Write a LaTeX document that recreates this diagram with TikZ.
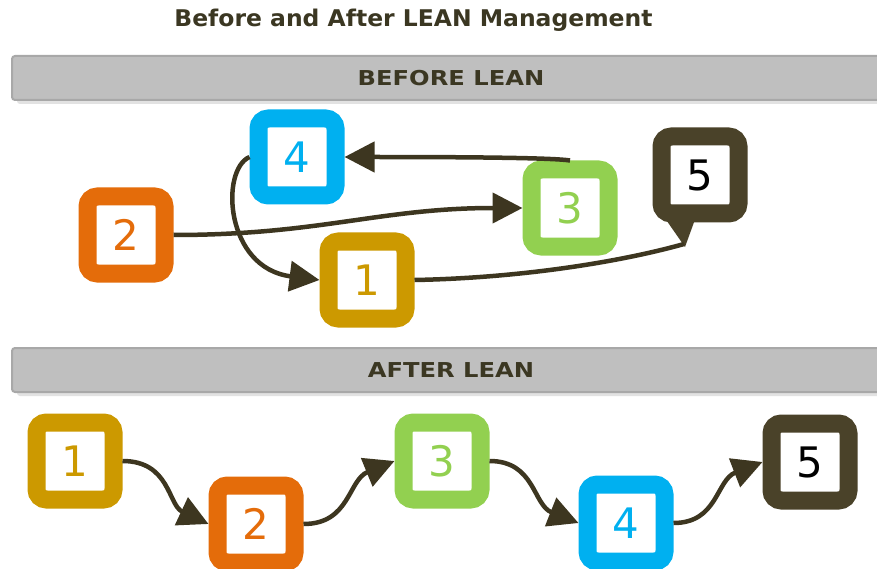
\documentclass[tikz,border=0pt]{standalone}
\usepackage{fontspec}
\usetikzlibrary{arrows.meta,shadows}
\newfontfamily\digitfont{DejaVu Sans}
\newfontfamily\headfont{DejaVu Sans}
\definecolor{cOrange}{HTML}{E46C0A}
\definecolor{cGold}{HTML}{CC9900}
\definecolor{cGreen}{HTML}{92D050}
\definecolor{cBlue}{HTML}{00B0F0}
\definecolor{cDark}{HTML}{4A4229}
\definecolor{cArrow}{HTML}{3D3620}
\definecolor{cText}{HTML}{3B3722}
\definecolor{cBanner}{HTML}{BFBFBF}
\definecolor{cBannerEdge}{HTML}{A8A8A8}
\definecolor{cShadow}{HTML}{E2E2E2}
\tikzset{
  box/.style={draw=#1, line width=18pt, fill=white, rounded corners=10pt,
    minimum size=77pt, inner sep=0pt, text=#1,
    font=\digitfont\fontsize{42}{42}\selectfont},
  banner/.style={fill=cBanner, draw=cBannerEdge, line width=2pt,
    rounded corners=3pt, minimum width=878pt, minimum height=44pt,
    drop shadow={shadow xshift=5pt, shadow yshift=-4pt, fill=cShadow, opacity=1},
    text=cText, font=\headfont\bfseries\fontsize{20.5}{20.5}\selectfont},
  flow/.style={draw=cArrow, line width=4.5pt, -{Triangle[length=30pt,width=30pt]}},
  plainline/.style={draw=cArrow, line width=4.5pt}
}
\begin{document}
\begin{tikzpicture}[x=1pt,y=-1pt]
\useasboundingbox[fill=white] (0,0) rectangle (877,569);
% title
\node[anchor=base, text=cText, font=\headfont\bfseries\fontsize{23}{23}\selectfont, inner sep=0pt]
  (title) at (413.5,27) {\scalebox{1.02}[1]{Before and After LEAN Management}};
% banners
\node[banner] (bbefore) at (451,78) {\scalebox{1.18}[1]{BEFORE LEAN}};
\node[banner] (bafter) at (451,370) {\scalebox{1.18}[1]{AFTER LEAN}};
% before lean
\fill[cDark] (662,214) -- (697,214) -- (685,247) -- cycle;
\coordinate (t5) at (684,244);
\node[box=cBlue] (n4b) at (297,157) {4};
\node[box=cOrange] (n2b) at (126,235) {2};
\node[box=cGold] (n1b) at (367,280) {1};
\node[box=cGreen] (n3b) at (570,208) {3};
\node[box=cDark, text=black] (n5b) at (700,175) {5};
\draw[flow] (n3b.north) .. controls (555,158) and (480,157) .. (n4b.east);
\draw[flow] (n2b.east) .. controls (320,235) and (380,208) .. (n3b.west);
\draw[flow] (n4b.west) .. controls (220,170) and (225,268) .. (n1b.west);
\draw[plainline] (n1b.east) .. controls (520,278) and (620,262) .. (t5);
% after lean
\node[box=cGold] (n1a) at (75,461) {1};
\node[box=cOrange] (n2a) at (256,524) {2};
\node[box=cGreen] (n3a) at (442,461) {3};
\node[box=cBlue] (n4a) at (626,523) {4};
\node[box=cDark, text=black] (n5a) at (810,462) {5};
\draw[flow] (n1a.east) .. controls (170,461) and (168,505) .. (n2a.west);
\draw[flow] (n2a.east) .. controls (350,524) and (348,480) .. (n3a.west);
\draw[flow] (n3a.east) .. controls (535,461) and (533,505) .. (n4a.west);
\draw[flow] (n4a.east) .. controls (718,523) and (716,480) .. (n5a.west);
\end{tikzpicture}
\end{document}
